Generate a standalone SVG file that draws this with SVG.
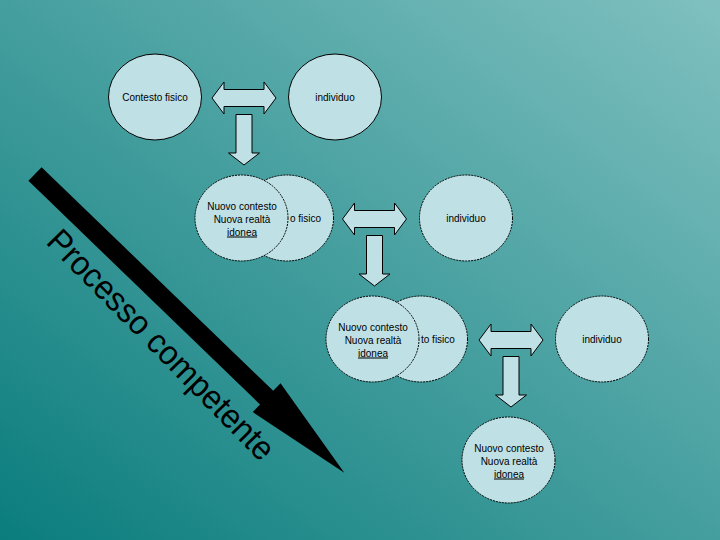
<svg xmlns="http://www.w3.org/2000/svg" width="720" height="540" viewBox="0 0 720 540">
  <defs>
    <linearGradient id="bg" x1="0" y1="1" x2="1" y2="0">
      <stop offset="0" stop-color="#0b7d7d"/>
      <stop offset="1" stop-color="#80c0c0"/>
    </linearGradient>
    <path id="dbl" d="M-32,0 L-20,-16 L-20,-8.5 L20,-8.5 L20,-16 L32,0 L20,16 L20,8.5 L-20,8.5 L-20,16 Z"/>
    <path id="down" d="M-8,16.5 L8,16.5 L8,55 L15.5,55 L0,67 L-15.5,55 L-8,55 Z"/>
  </defs>
  <style>
    .node { fill: #bfe1e5; stroke: #000; stroke-width: 1; }
    .dot { stroke-dasharray: 2 1; }
    .conn { fill: #bfe1e5; stroke: #000; stroke-width: 1; }
    .lbl { font-family: "Liberation Sans", Arial, sans-serif; font-size: 10px; fill: #000; text-anchor: middle; }
    .st { text-anchor: start; }
    .u { text-decoration: underline; }
    .big { font-family: "Liberation Sans", Arial, sans-serif; font-size: 34px; fill: #000; }
  </style>
  <rect width="720" height="540" fill="url(#bg)"/>

  <g id="process-arrow">
    <path transform="translate(35,174) rotate(44)" d="M0,-9.5 L322,-9.5 L322,-20 L430,0 L322,20 L322,9.5 L0,9.5 Z" fill="#000"/>
    <text class="big" transform="translate(45,243) rotate(45.5)" x="0" y="0" textLength="308" lengthAdjust="spacingAndGlyphs">Processo competente</text>
  </g>

  <g id="connectors">
    <use href="#dbl" class="conn" x="244" y="98"/>
    <use href="#down" class="conn" x="244" y="98"/>
    <use href="#dbl" class="conn" x="374.5" y="219"/>
    <use href="#down" class="conn" x="374.5" y="219"/>
    <use href="#dbl" class="conn" x="511" y="340"/>
    <use href="#down" class="conn" x="511" y="340"/>
  </g>

  <g id="contesto1">
    <ellipse class="node" cx="155" cy="97" rx="46.5" ry="43"/>
    <text class="lbl" x="155" y="100.5">Contesto fisico</text>
  </g>
  <g id="individuo1">
    <ellipse class="node" cx="335" cy="97" rx="46.5" ry="43"/>
    <text class="lbl" x="335" y="100.5">individuo</text>
  </g>

  <g id="contesto2">
    <ellipse class="node dot" cx="287" cy="218" rx="46.5" ry="43"/>
    <text class="lbl st" x="290" y="221.5">o fisico</text>
  </g>
  <g id="nuovo2">
    <ellipse class="node dot" cx="241.5" cy="218" rx="46.5" ry="43"/>
    <text class="lbl" x="242" y="209.5">Nuovo contesto</text>
    <text class="lbl" x="242" y="222.5">Nuova realtà</text>
    <text class="lbl u" x="242" y="235.5">idonea</text>
  </g>
  <g id="individuo2">
    <ellipse class="node dot" cx="466" cy="218" rx="46.5" ry="43"/>
    <text class="lbl" x="466" y="221.5">individuo</text>
  </g>

  <g id="contesto3">
    <ellipse class="node dot" cx="421" cy="339" rx="46.5" ry="43"/>
    <text class="lbl st" x="421" y="342.5">to fisico</text>
  </g>
  <g id="nuovo3">
    <ellipse class="node dot" cx="372.5" cy="339" rx="46.5" ry="43"/>
    <text class="lbl" x="373" y="330.5">Nuovo contesto</text>
    <text class="lbl" x="373" y="343.5">Nuova realtà</text>
    <text class="lbl u" x="373" y="356.5">idonea</text>
  </g>
  <g id="individuo3">
    <ellipse class="node dot" cx="602" cy="339" rx="46.5" ry="43"/>
    <text class="lbl" x="602" y="342.5">individuo</text>
  </g>

  <g id="nuovo4">
    <ellipse class="node dot" cx="508.5" cy="460" rx="46.5" ry="43"/>
    <text class="lbl" x="509" y="451.5">Nuovo contesto</text>
    <text class="lbl" x="509" y="464.5">Nuova realtà</text>
    <text class="lbl u" x="509" y="477.5">idonea</text>
  </g>
</svg>
